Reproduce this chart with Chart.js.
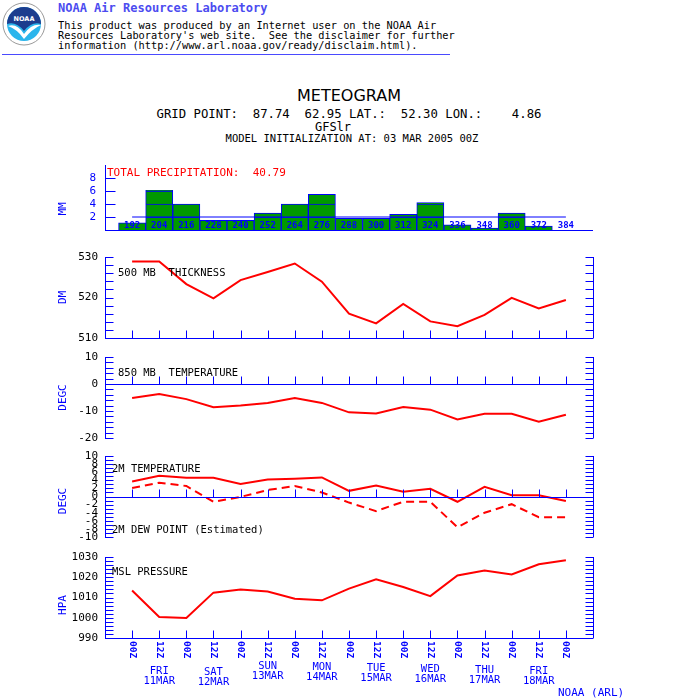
<!DOCTYPE html>
<html lang="en">
<head>
<meta charset="UTF-8">
<title>Meteogram</title>
<script src="https://cdn.jsdelivr.net/npm/chart.js"></script>
<style>
  html, body { margin: 0; padding: 0; background: #fff; }
  #page { position: relative; width: 700px; height: 700px; overflow: hidden; }
  #page canvas { position: absolute; left: 0; top: 0; }
  .t { position: absolute; white-space: pre; line-height: 1; font-family: "DejaVu Sans Mono", monospace; }
  .c { transform: translateX(-50%); }
</style>
</head>
<body>
<div id="page">
  <!-- header -->
  <svg style="position:absolute;left:2px;top:2px" width="44" height="44" viewBox="0 0 44 44">
    <circle cx="22" cy="22" r="21" fill="#fff" stroke="#9a9a9a" stroke-width="1"/>
    <circle cx="22" cy="22" r="17" fill="#2bb5ec"/>
    <path d="M5,22 A17,17 0 0 1 39,22 Q30,19 22,29 Q14,19 5,22Z" fill="#1c3d8e"/>
    <path d="M6,24 Q15,21 22,32 Q30,21 39,23 Q30,27 22,37 Q15,27 6,24Z" fill="#fff"/>
    <text x="22" y="19" font-size="6.5" fill="#fff" text-anchor="middle" font-family="DejaVu Sans" font-weight="bold">NOAA</text>
  </svg>
  <div class="t" style="left:58px;top:2px;font-size:12px;font-weight:bold;color:#4c4cf0">NOAA Air Resources Laboratory</div>
  <div class="t" style="left:58px;top:20px;font-size:10.3px;line-height:10px;color:#000">This product was produced by an Internet user on the NOAA Air
Resources Laboratory's web site.  See the disclaimer for further
information (http://www.arl.noaa.gov/ready/disclaim.html).</div>
  <div style="position:absolute;left:2px;top:54px;width:448px;height:1px;background:#4a4aff"></div>

  <!-- titles -->
  <div class="t c" style="left:349px;top:88px;font-size:16px;font-family:'DejaVu Sans';color:#000">METEOGRAM</div>
  <div class="t c" style="left:349px;top:108px;font-size:12.3px;color:#000">GRID POINT:  87.74  62.95 LAT.:  52.30 LON.:    4.86</div>
  <div class="t c" style="left:333px;top:121px;font-size:12px;color:#000">GFSlr</div>
  <div class="t c" style="left:352px;top:133px;font-size:10.5px;color:#000">MODEL INITIALIZATION AT: 03 MAR 2005 00Z</div>

  <canvas id="cPrecip" width="700" height="700"></canvas>
  <canvas id="cThick" width="700" height="700"></canvas>
  <canvas id="c850" width="700" height="700"></canvas>
  <canvas id="c2m" width="700" height="700"></canvas>
  <canvas id="cMsl" width="700" height="700"></canvas>

  <div class="t" style="left:558px;top:687px;font-size:11px;color:#0000ff">NOAA (ARL)</div>
</div>

<script>
// forecast hours from model init (03 MAR 2005 00Z)
const hours = [192, 204, 216, 228, 240, 252, 264, 276, 288, 300, 312, 324, 336, 348, 360, 372, 384];
const timeLabels = ['00Z', '12Z', '00Z', '12Z', '00Z', '12Z', '00Z', '12Z', '00Z', '12Z', '00Z', '12Z', '00Z', '12Z', '00Z', '12Z', '00Z'];
const dayNames = ['FRI', 'SAT', 'SUN', 'MON', 'TUE', 'WED', 'THU', 'FRI'];
const dayDates = ['11MAR', '12MAR', '13MAR', '14MAR', '15MAR', '16MAR', '17MAR', '18MAR'];
const dayHours = [204, 228, 252, 276, 300, 324, 348, 372];

// 12h precipitation (mm)
const precip = [1.1, 6.1, 4.0, 1.5, 1.5, 2.6, 4.0, 5.5, 1.8, 1.8, 2.4, 4.2, 0.8, 0.3, 2.6, 0.6, 0];
const precipRef = [2, 2];
// 500 mb thickness (dam)
const thickness = [528.9, 528.9, 523.3, 519.8, 524.3, 526.3, 528.4, 523.9, 516.0, 513.6, 518.4, 514.1, 512.9, 515.7, 519.9, 517.3, 519.4];
// 850 mb temperature (C)
const temp850 = [-5.2, -3.7, -5.6, -8.6, -8.0, -7.0, -5.2, -7.0, -10.5, -10.9, -8.5, -9.5, -13.1, -11.0, -11.0, -14.0, -11.4];
// 2 m temperature and dew point (C)
const temp2m = [3.7, 5.1, 4.6, 4.6, 3.1, 4.2, 4.4, 4.7, 1.4, 2.7, 1.2, 1.9, -1.3, 2.4, 0.3, 0.3, -1.1];
const dew2m = [2.1, 3.4, 2.6, -1.3, -0.1, 1.6, 2.6, 1.0, -1.5, -3.6, -1.3, -1.3, -7.6, -4.0, -1.9, -5.1, -5.1];
// mean sea level pressure (hPa)
const mslp = [1013.5, 1000.4, 999.9, 1012.4, 1013.9, 1013.0, 1009.4, 1008.6, 1014.4, 1019.0, 1015.2, 1010.7, 1020.9, 1023.3, 1021.4, 1026.4, 1028.4];

const AXIS = '#0000ff';
const RED = '#ff0000';
const GREEN = '#009900';
const MONO = '"DejaVu Sans Mono"';

const pts = vals => vals.map((v, i) => ({ x: hours[i], y: v }));

// stacked 2 mm slices so the bars show the inner blue lines
const slice = (lo, hi) => precip.map((v, i) => {
  const s = Math.min(Math.max(v - lo, 0), hi - lo);
  return { x: hours[i], y: s > 0 ? s : null };
});

const decoPlugin = {
  id: 'deco',
  afterDatasetsDraw(chart, args, o) {
    const { ctx, chartArea: a, scales: { x, y } } = chart;
    const snap = v => Math.round(v) + 0.5;
    const seg = (x1, y1, x2, y2) => { ctx.beginPath(); ctx.moveTo(x1, y1); ctx.lineTo(x2, y2); ctx.stroke(); };
    const L = snap(a.left), R = snap(a.right);
    ctx.save();
    ctx.strokeStyle = AXIS;
    ctx.lineWidth = 1;

    // inward ticks on left (and mirrored right) axis
    y.ticks.forEach(t => {
      if (o.tickValues && !o.tickValues.includes(t.value)) return;
      const py = snap(y.getPixelForValue(t.value));
      seg(L, py, L + o.tickLen, py);
      if (o.rightAxis) seg(R - o.tickLen, py, R, py);
    });
    if (o.rightAxis) seg(R, a.top, R, a.bottom);

    // base / zero line with time ticks
    if (o.base !== undefined) {
      const py = snap(y.getPixelForValue(o.base));
      seg(a.left, py, a.right, py);
      if (o.baseTicks) hours.forEach(h => {
        const px = snap(x.getPixelForValue(h));
        seg(px, py, px, py - 8);
      });
    }

    // axis title
    ctx.fillStyle = AXIS;
    ctx.font = '11px ' + MONO;
    ctx.textAlign = 'center';
    ctx.textBaseline = 'middle';
    ctx.save();
    ctx.translate(63, o.titleY !== undefined ? o.titleY : (a.top + a.bottom) / 2);
    ctx.rotate(-Math.PI / 2);
    ctx.fillText(o.title, 0, 0);
    ctx.restore();

    // panel captions
    (o.texts || []).forEach(t => {
      ctx.fillStyle = t.color || '#000';
      ctx.font = (t.size || 10.5) + 'px ' + MONO;
      ctx.textAlign = 'left';
      ctx.fillText(t.text, t.x, t.y);
    });

    // forecast hour labels at the foot of the bars
    if (o.barLabels) {
      ctx.fillStyle = AXIS;
      ctx.font = 'bold 9px ' + MONO;
      ctx.textAlign = 'center';
      hours.forEach(h => ctx.fillText(String(h), x.getPixelForValue(h), a.bottom - 4));
    }

    // time axis under the last panel
    if (o.timeAxis) {
      ctx.fillStyle = AXIS;
      ctx.font = 'bold 9.5px ' + MONO;
      ctx.textAlign = 'left';
      hours.forEach((h, i) => {
        ctx.save();
        ctx.translate(x.getPixelForValue(h), a.bottom + 3);
        ctx.rotate(Math.PI / 2);
        ctx.fillText(timeLabels[i], 0, 0);
        ctx.restore();
      });
      const dayDy = [0, 1, -5, -4, -3, -2, -1, 0];
      ctx.font = '10.5px ' + MONO;
      ctx.textAlign = 'center';
      dayHours.forEach((h, i) => {
        const px = x.getPixelForValue(h);
        ctx.fillText(dayNames[i], px, 671 + dayDy[i]);
        ctx.fillText(dayDates[i], px, 681 + dayDy[i]);
      });
    }
    ctx.restore();
  }
};

function labelAxis(min, max, step, every, color) {
  return {
    min, max,
    ticks: {
      stepSize: step, autoSkip: false, color, padding: 7,
      font: { family: MONO, size: 11 },
      callback: v => (Math.round(v) % every === 0 ? String(v) : '')
    },
    grid: { display: false, drawTicks: false },
    border: { display: true, color: AXIS, width: 1 },
    afterFit: s => { s.width = 105; }
  };
}

function panel(id, top, bottom, type, datasets, y, deco) {
  return new Chart(document.getElementById(id), {
    type,
    data: { datasets },
    options: {
      responsive: false,
      animation: false,
      events: [],
      layout: { padding: { left: 0, right: 107, top, bottom: 700 - bottom } },
      plugins: { legend: { display: false }, tooltip: { enabled: false }, deco },
      scales: {
        x: { type: 'linear', min: 180, max: 396, display: false, offset: false, stacked: type === 'bar' },
        y
      }
    },
    plugins: [decoPlugin]
  });
}

const redLine = (vals, dash) => ({
  type: 'line', data: pts(vals), borderColor: RED, borderWidth: 2,
  borderDash: dash || [], pointRadius: 0, tension: 0
});

// precipitation
const barSet = (lo, hi) => ({
  type: 'bar', data: slice(lo, hi), backgroundColor: GREEN, borderColor: AXIS,
  borderWidth: 1, barPercentage: 1, categoryPercentage: 1, stack: 'p'
});
const precipY = labelAxis(0, 10, 2, 2, AXIS);
precipY.stacked = true;
precipY.ticks.callback = v => (v > 0 && v < 10 ? String(v) : '');
precipY.ticks.padding = 9;
panel('cPrecip', 165, 230, 'bar', [
  { type: 'line', data: [{ x: hours[0], y: precipRef[0] }, { x: hours[hours.length - 1], y: precipRef[1] }],
    borderColor: AXIS, borderWidth: 1, pointRadius: 0, stack: 'ref' },
  barSet(0, 2), barSet(2, 4), barSet(4, 6), barSet(6, 100)
], precipY, {
  tickLen: 10, tickValues: [2, 4, 6, 8], base: 0, title: 'MM', titleY: 209, barLabels: true,
  texts: [{ text: 'TOTAL PRECIPITATION:  40.79', x: 107, y: 173, color: RED, size: 11 }]
});

// 500 mb thickness
panel('cThick', 257, 338, 'line', [redLine(thickness)], labelAxis(510, 530, 2, 10, '#000'), {
  tickLen: 8, rightAxis: true, base: 510, baseTicks: true, title: 'DM',
  texts: [{ text: '500 MB  THICKNESS', x: 118, y: 273 }]
});

// 850 mb temperature
panel('c850', 357, 438, 'line', [redLine(temp850)], labelAxis(-20, 10, 2, 10, '#000'), {
  tickLen: 8, rightAxis: true, base: 0, baseTicks: true, title: 'DEGC',
  texts: [{ text: '850 MB  TEMPERATURE', x: 118, y: 373 }]
});

// 2 m temperature / dew point
panel('c2m', 456, 537, 'line', [redLine(temp2m), redLine(dew2m, [8, 5])], labelAxis(-10, 10, 1, 2, '#000'), {
  tickLen: 8, rightAxis: true, base: 0, baseTicks: true, title: 'DEGC', titleY: 501,
  texts: [
    { text: '2M TEMPERATURE', x: 112, y: 469 },
    { text: '2M DEW POINT (Estimated)', x: 112, y: 530 }
  ]
});

// MSL pressure
panel('cMsl', 557, 638, 'line', [redLine(mslp)], labelAxis(990, 1030, 2, 10, '#000'), {
  tickLen: 8, rightAxis: true, base: 990, baseTicks: true, title: 'HPA', titleY: 605, timeAxis: true,
  texts: [{ text: 'MSL PRESSURE', x: 112, y: 572 }]
});
</script>
</body>
</html>
